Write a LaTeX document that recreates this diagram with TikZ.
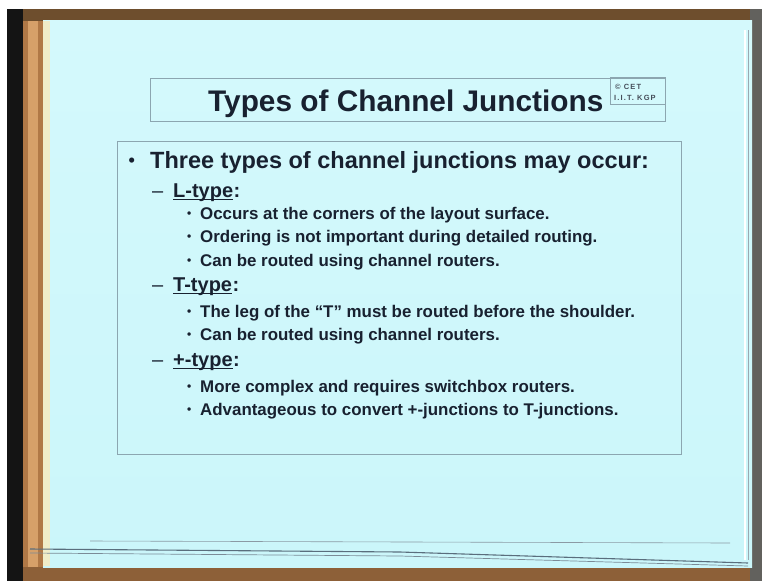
\documentclass[tikz,border=0pt]{standalone}
\usepackage{fontspec}
\setmainfont{Liberation Sans}
\definecolor{slide}{RGB}{203,246,250}
\definecolor{slidetop}{RGB}{212,249,252}
\definecolor{ink}{RGB}{24,33,48}
\definecolor{boxline}{RGB}{140,166,176}
\definecolor{wood}{RGB}{176,120,70}
\definecolor{woodlight}{RGB}{214,160,105}
\definecolor{wooddark}{RGB}{110,78,45}
\definecolor{cream}{RGB}{240,236,200}
\definecolor{edge}{RGB}{90,110,125}
\tikzset{
  txt/.style={anchor=base west, inner sep=0pt, text=ink, font=\bfseries},
  lvlone/.style={txt, font=\fontsize{23.5}{26}\selectfont\bfseries},
  lvltwo/.style={txt, font=\fontsize{20}{22}\selectfont\bfseries},
  lvlthree/.style={txt, font=\fontsize{16.9}{19}\selectfont\bfseries},
  bulone/.style={txt, font=\fontsize{18}{19}\selectfont\bfseries},
  bulthree/.style={txt, font=\fontsize{12}{14}\selectfont\bfseries},
  dashmark/.style={txt, font=\fontsize{20}{22}\selectfont},
  frameline/.style={draw=boxline, line width=0.9pt},
  uline/.style={draw=ink, line width=1.1pt},
}
\begin{document}
\begin{tikzpicture}[x=1pt,y=-1pt]
\useasboundingbox (0,0) rectangle (762,581);
% surroundings
\fill[white] (0,0) rectangle (762,581);
\fill[black!92] (7,9) rectangle (24,581);
\fill[wood] (23,9) rectangle (43,581);
\fill[woodlight] (28,9) rectangle (38,581);
\fill[wooddark] (23,9) rectangle (762,21);
\fill[wood!80!black] (23,567) rectangle (762,581);
\fill[edge!60!wooddark] (750,9) rectangle (762,581);
% slide surface
\shade[top color=slidetop, bottom color=slide] (43,20) rectangle (752,567);
\fill[cream] (43,21) rectangle (50,566);
% paper edges at the bottom and right
\draw[edge!70, line width=0.6pt] (90,541) -- (730,543);
\draw[edge, line width=1.1pt] (30,549) -- (400,552) -- (748,563);
\draw[edge!80, line width=0.7pt] (30,553) -- (400,556) -- (748,566);
\draw[white, line width=1.2pt] (745,30) -- (745,560);
\draw[edge!60, line width=0.6pt] (748,30) -- (748,560);

% title box
\draw[frameline] (150,78) rectangle (665,121);
\node[txt, font=\fontsize{29.8}{32}\selectfont\bfseries] (title) at (208,111) {Types of Channel Junctions};
\draw[frameline, line width=0.7pt] (610,77) rectangle (665,104);
\node[txt, text=ink!80, font=\fontsize{7.5}{8}\selectfont\bfseries\addfontfeature{LetterSpace=15}] (cet1) at (615,89) {© CET};
\node[txt, text=ink!80, font=\fontsize{7.5}{8}\selectfont\bfseries\addfontfeature{LetterSpace=15}] (cet2) at (614,100) {I.I.T. KGP};

% content box
\draw[frameline] (117,141) rectangle (681,454);

\node[bulone] (b0) at (128.5,166.5) {•};
\node[lvlone] (t0) at (150,168) {Three types of channel junctions may occur:};

\node[dashmark] (d1) at (152,197) {–};
\node[lvltwo] (t1) at (173,197) {L-type};
\node[lvltwo] (c1) at (t1.base east) {:};
\draw[uline] ([yshift=-2.5pt]t1.base west) -- ([yshift=-2.5pt]t1.base east);
\node[bulthree] (b11) at (187,217.5) {•};
\node[lvlthree] (t11) at (200,219) {Occurs at the corners of the layout surface.};
\node[bulthree] (b12) at (187,240.5) {•};
\node[lvlthree] (t12) at (200,242) {Ordering is not important during detailed routing.};
\node[bulthree] (b13) at (187,264.5) {•};
\node[lvlthree] (t13) at (200,266) {Can be routed using channel routers.};

\node[dashmark] (d2) at (152,291) {–};
\node[lvltwo] (t2) at (173,291) {T-type};
\node[lvltwo] (c2) at (t2.base east) {:};
\draw[uline] ([yshift=-2.5pt]t2.base west) -- ([yshift=-2.5pt]t2.base east);
\node[bulthree] (b21) at (187,315.5) {•};
\node[lvlthree] (t21) at (200,317) {The leg of the “T” must be routed before the shoulder.};
\node[bulthree] (b22) at (187,338.5) {•};
\node[lvlthree] (t22) at (200,340) {Can be routed using channel routers.};

\node[dashmark] (d3) at (152,366) {–};
\node[lvltwo] (t3) at (173,366) {+-type};
\node[lvltwo] (c3) at (t3.base east) {:};
\draw[uline] ([yshift=-2.5pt]t3.base west) -- ([yshift=-2.5pt]t3.base east);
\node[bulthree] (b31) at (187,390.5) {•};
\node[lvlthree] (t31) at (200,392) {More complex and requires switchbox routers.};
\node[bulthree] (b32) at (187,413.5) {•};
\node[lvlthree] (t32) at (200,415) {Advantageous to convert +-junctions to T-junctions.};
\end{tikzpicture}
\end{document}
